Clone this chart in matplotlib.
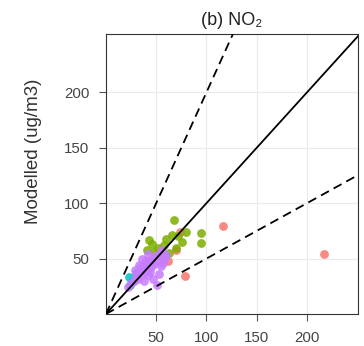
import numpy as np
import matplotlib.pyplot as plt

# observed vs modelled NO2 by group
red_obs = [116, 217, 79, 70, 74, 62]
red_mod = [79, 54, 34, 58, 74, 48]
green_obs = [68, 95, 95, 80, 66, 43, 41, 48, 58, 63, 76, 55, 72, 60, 52, 46, 70]
green_mod = [85, 73, 64, 74, 71, 67, 58, 56, 62, 55, 65, 51, 70, 68, 60, 63, 60]
cyan_obs = [23, 26, 30, 24]
cyan_mod = [33, 29, 37, 26]
purple_obs = [22, 25, 28, 30, 32, 34, 35, 36, 38, 40, 41, 42, 44, 45, 46, 48, 50,
              52, 54, 55, 56, 58, 60, 38, 33, 44, 47, 51, 36, 42, 29, 53, 57, 40]
purple_mod = [24, 28, 30, 34, 32, 38, 42, 36, 44, 40, 46, 35, 48, 42, 50, 45, 52,
              48, 55, 43, 58, 50, 53, 30, 44, 38, 32, 26, 50, 54, 40, 36, 46, 48]

xticks = [50, 100, 150, 200]
yticks = [50, 100, 150, 200]
lim = 251

plt.rcParams['font.family'] = ['Liberation Sans', 'DejaVu Sans']

fig = plt.figure(figsize=(3.64, 3.46), dpi=100)
ax = fig.add_axes([0.291, 0.0925, 0.693, 0.81])

ax.scatter(red_obs, red_mod, s=40, color='#F8766D', alpha=0.85, lw=0, zorder=3)
ax.scatter(green_obs, green_mod, s=40, color='#7CAE00', alpha=0.85, lw=0, zorder=3)
ax.scatter(cyan_obs, cyan_mod, s=40, color='#00BFC4', alpha=0.85, lw=0, zorder=3)
ax.scatter(purple_obs, purple_mod, s=40, color='#C77CFF', alpha=0.85, lw=0, zorder=3)

xs = np.array([0, 300])
ax.plot(xs, xs, color='black', lw=1.3, zorder=4)
ax.plot(xs, 2 * xs, color='black', lw=1.3, ls=(0, (5, 3)), zorder=4)
ax.plot(xs, 0.5 * xs, color='black', lw=1.3, ls=(0, (5, 3)), zorder=4)

ax.set_xlim(0, lim)
ax.set_ylim(0, 253)
ax.set_xticks(xticks)
ax.set_yticks(yticks)
ax.grid(color='#ebebeb', lw=0.8)
ax.set_axisbelow(True)
for s in ax.spines.values():
    s.set_color('#333333')
ax.tick_params(direction='out', length=5, color='#555555', labelcolor='#444444',
               labelsize=10.8, pad=7)
ax.set_ylabel('Modelled (ug/m3)', fontsize=13.5, color='#333333')
ax.yaxis.set_label_coords(-0.255, 0.58)
ax.set_title('(b) NO\u2082', fontsize=13, color='#222222', pad=6)

fig.savefig('out.png', dpi=100)
